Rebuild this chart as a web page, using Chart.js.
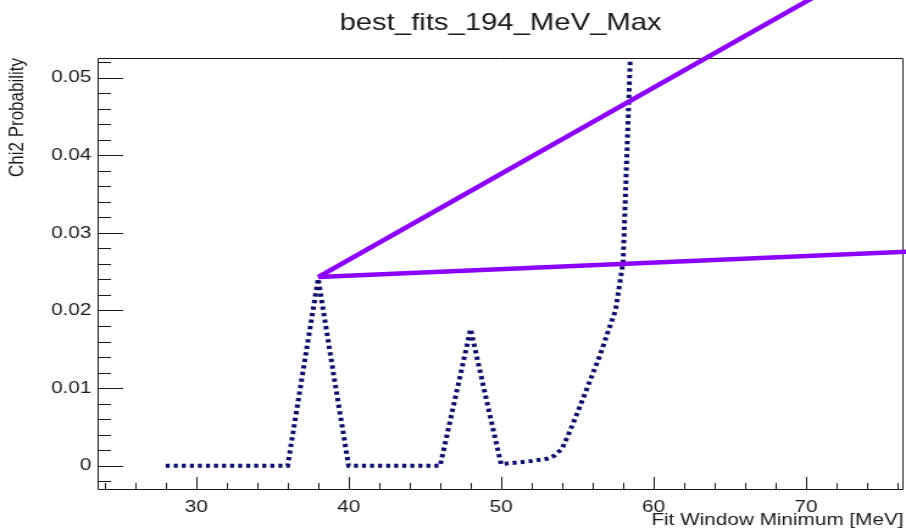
<!DOCTYPE html>
<html>
<head>
<meta charset="utf-8">
<title>best_fits_194_MeV_Max</title>
<script src="https://cdn.jsdelivr.net/npm/chart.js@4.4.1/dist/chart.umd.min.js"></script>
<style>
  html, body { margin: 0; padding: 0; background: #fff; overflow: hidden; }
  /* the reference is a 700-ish wide ROOT canvas stretched sideways */
  #wrap { width: 743px; height: 531px; transform: scaleX(1.2194); transform-origin: 0 0; }
</style>
</head>
<body>
<div id="wrap"><canvas id="fitChart" width="743" height="531"></canvas></div>
<script>
// dotted graph: chi2 probability vs fit window minimum
const fitMin = [28, 29, 30, 31, 32, 33, 34, 35, 36, 37, 38, 39, 40, 41, 42, 43, 44, 45, 46, 47, 48, 49,
                50, 51, 52, 53, 53.5, 54, 54.5, 55, 55.5, 56, 56.5, 57, 57.5, 58, 58.5, 59];
const chi2Prob = [0, 0, 0, 0, 0, 0, 0, 0, 0, 0.0121, 0.0241, 0.0119, 0, 0, 0, 0, 0, 0, 0, 0.0088, 0.0176, 0.0088,
                  0.0002, 0.0004, 0.0006, 0.0009, 0.0013, 0.0022, 0.0044, 0.0068, 0.0093, 0.0118, 0.0143, 0.0172, 0.0200, 0.0262, 0.0540, 0.0800];

// two straight purple lines starting at the 38 MeV peak
const lineX = [38, 80];
const steepLine = [0.0243, 0.0709];
const flatLine = [0.0243, 0.02785];

// labelled ticks
const xLabels = [30, 40, 50, 60, 70];
const yLabels = [0, 0.01, 0.02, 0.03, 0.04, 0.05];

const fontFamily = "'Liberation Sans', Arial, Helvetica, sans-serif";
const textColor = '#1a1a1a';

function toPoints(xs, ys) {
    return xs.map((v, i) => ({x: v, y: ys[i]}));
}

// ROOT style frame with inward ticks
const rootFrame = {
    id: 'rootFrame',
    beforeDatasetsDraw(chart) {
        const {ctx, chartArea: area, scales: {x, y}} = chart;
        ctx.save();
        ctx.strokeStyle = '#1a1a1a';
        ctx.lineWidth = 1;
        ctx.beginPath();
        ctx.rect(area.left + 0.5, area.top + 0.5, area.width - 1, area.height - 1);
        for (let v = 24; v <= x.max; v += 2) {
            const px = Math.round(x.getPixelForValue(v)) + 0.5;
            const len = v % 10 === 0 ? 13 : 7;
            ctx.moveTo(px, area.bottom);
            ctx.lineTo(px, area.bottom - len);
        }
        for (let i = -1; i * 0.002 <= y.max; i++) {
            const py = Math.round(y.getPixelForValue(i * 0.002)) + 0.5;
            const len = i % 5 === 0 ? 21 : 11;
            ctx.moveTo(area.left, py);
            ctx.lineTo(area.left + len, py);
        }
        ctx.stroke();
        ctx.restore();
    }
};

new Chart(document.getElementById('fitChart'), {
    type: 'line',
    data: {
        datasets: [
            {
                label: 'steep',
                data: toPoints(lineX, steepLine),
                borderColor: '#8c00ff',
                borderWidth: 4.5,
                pointRadius: 0,
                clip: false
            },
            {
                label: 'flat',
                data: toPoints(lineX, flatLine),
                borderColor: '#8c00ff',
                borderWidth: 4.5,
                pointRadius: 0,
                clip: false
            },
            {
                label: 'Chi2 Probability',
                data: toPoints(fitMin, chi2Prob),
                borderColor: '#0d0d6b',
                borderWidth: 4,
                borderDash: [3.3, 3.3],
                pointRadius: 0,
                tension: 0,
                fill: false
            }
        ]
    },
    options: {
        responsive: false,
        animation: false,
        devicePixelRatio: 1,
        layout: {padding: {left: 0, right: 2, top: 0, bottom: 0}},
        plugins: {
            legend: {display: false},
            tooltip: {enabled: false},
            title: {
                display: true,
                text: 'best_fits_194_MeV_Max',
                fullSize: false,
                color: textColor,
                font: {family: fontFamily, size: 24, weight: 'normal'},
                padding: {top: 8.5, bottom: 20.7}
            }
        },
        scales: {
            x: {
                type: 'linear',
                min: 23.53,
                max: 76.4,
                grid: {display: false, drawTicks: false},
                border: {display: false},
                afterBuildTicks: s => { s.ticks = xLabels.map(v => ({value: v})); },
                afterFit: s => { s.height = 41; },
                ticks: {
                    padding: 7,
                    maxRotation: 0,
                    color: textColor,
                    font: {family: fontFamily, size: 17},
                    callback: v => String(v)
                },
                title: {
                    display: true,
                    text: 'Fit Window Minimum [MeV]',
                    align: 'end',
                    color: textColor,
                    font: {family: fontFamily, size: 17},
                    padding: {top: 0, bottom: 0}
                }
            },
            y: {
                type: 'linear',
                min: -0.00313,
                max: 0.05253,
                grid: {display: false, drawTicks: false},
                border: {display: false},
                afterBuildTicks: s => { s.ticks = yLabels.map(v => ({value: v})); },
                afterFit: s => { s.width = 80; },
                ticks: {
                    padding: 5,
                    color: textColor,
                    font: {family: fontFamily, size: 17},
                    callback: v => v === 0 ? '0' : v.toFixed(2)
                },
                title: {
                    display: true,
                    text: 'Chi2 Probability',
                    align: 'end',
                    color: textColor,
                    font: {family: fontFamily, size: 17},
                    padding: {top: 4, bottom: 0}
                }
            }
        }
    },
    plugins: [rootFrame]
});
</script>
</body>
</html>
